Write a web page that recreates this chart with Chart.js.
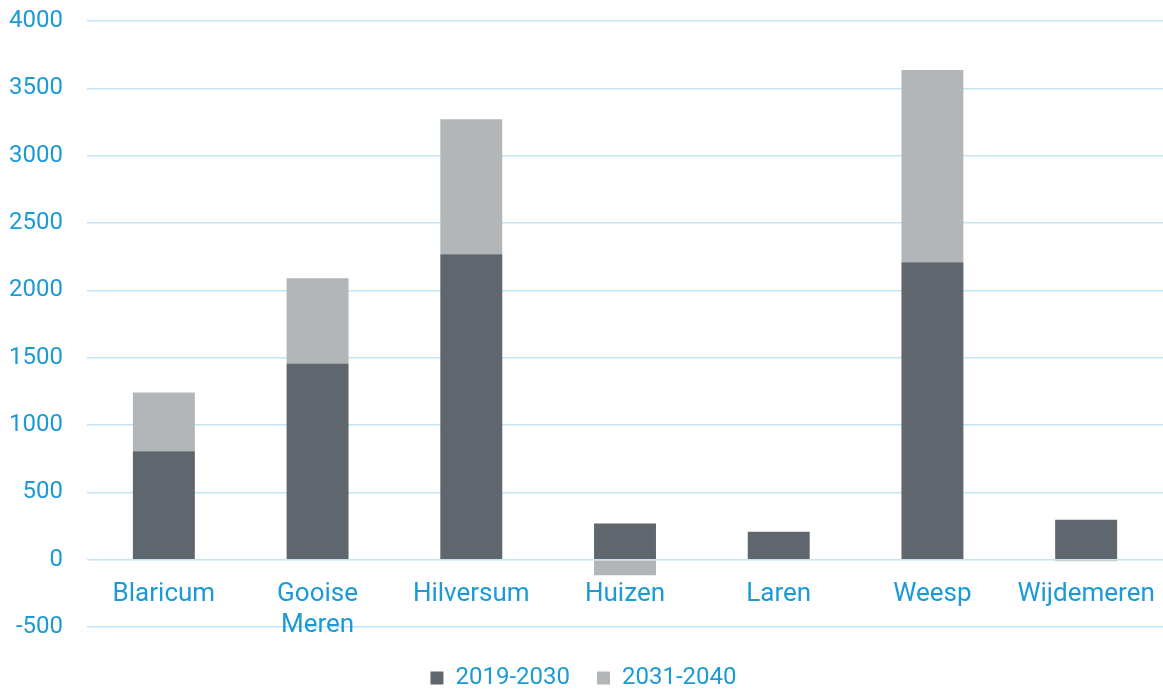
<!DOCTYPE html>
<html>
<head>
<meta charset="utf-8">
<script src="https://cdn.jsdelivr.net/npm/chart.js@4"></script>
<style>
html,body{margin:0;padding:0;background:#fff;}
#wrap{width:1163px;height:689px;position:relative;}
</style>
</head>
<body>
<div id="wrap"><canvas id="c" width="1163" height="689"></canvas></div>
<script>
const categories = ["Blaricum", ["Gooise", "Meren"], "Hilversum", "Huizen", "Laren", "Weesp", "Wijdemeren"];
const series2019_2030 = [805, 1457, 2268, 268, 208, 2208, 297];
const series2031_2040 = [437, 632, 1003, -115, 0, 1428, -12];
const seriesNames = ["2019-2030", "2031-2040"];
const yTicks = { min: -500, max: 4000, step: 500 };

const textColor = "#1b9ad6";
const gridColor = "#c2e5f6";
const fontFamily = "Roboto, 'Noto Sans', sans-serif";

new Chart(document.getElementById("c"), {
  type: "bar",
  data: {
    labels: categories,
    datasets: [
      { label: seriesNames[0], data: series2019_2030, backgroundColor: "#5f666d", borderWidth: 0 },
      { label: seriesNames[1], data: series2031_2040, backgroundColor: "#b3b6b9", borderWidth: 0 }
    ]
  },
  options: {
    responsive: false,
    animation: false,
    layout: { padding: { top: 21, right: 0, left: 4, bottom: -11 } },
    datasets: { bar: { categoryPercentage: 1.0, barPercentage: 0.403 } },
    scales: {
      x: {
        stacked: true,
        position: { y: 0 },
        grid: { display: false, drawTicks: false },
        border: { display: false },
        ticks: { color: textColor, font: { family: fontFamily, size: 26 }, padding: 19, maxRotation: 0, autoSkip: false },
        afterFit: s => { s.paddingLeft = 0; s.paddingRight = 0; s.paddingTop = 0; s.paddingBottom = 0; }
      },
      y: {
        stacked: true,
        min: yTicks.min,
        max: yTicks.max,
        grid: { color: gridColor, lineWidth: 1.5, drawTicks: false },
        border: { display: false },
        ticks: { stepSize: yTicks.step, color: textColor, font: { family: fontFamily, size: 24 }, padding: 24, callback: v => String(v) },
        afterFit: s => { s.width = 83; s.paddingTop = 0; s.paddingBottom = 0; }
      }
    },
    plugins: {
      legend: {
        position: "bottom",
        title: { display: true, text: " ", font: { size: 10 }, padding: 0 },
        labels: { color: textColor, font: { family: fontFamily, size: 24 }, boxWidth: 13, boxHeight: 13, padding: 27 }
      },
      tooltip: { enabled: false }
    }
  }
});
</script>
</body>
</html>
